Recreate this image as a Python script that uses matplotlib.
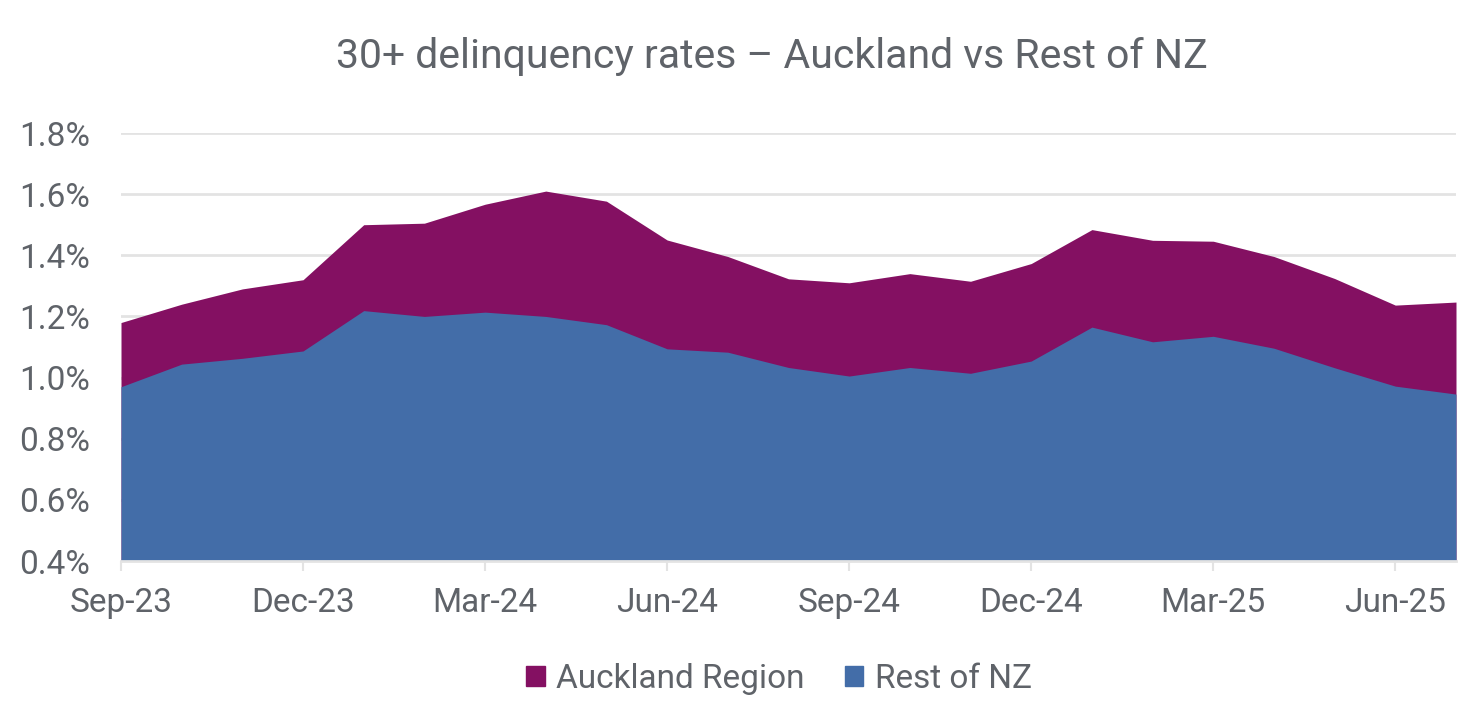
import matplotlib.pyplot as plt
from matplotlib.patches import Patch
from matplotlib.ticker import FuncFormatter, MultipleLocator

# Monthly data, Sep-23 .. Jul-25 (percent)
months = ['Sep-23', 'Oct-23', 'Nov-23', 'Dec-23', 'Jan-24', 'Feb-24', 'Mar-24', 'Apr-24',
          'May-24', 'Jun-24', 'Jul-24', 'Aug-24', 'Sep-24', 'Oct-24', 'Nov-24', 'Dec-24',
          'Jan-25', 'Feb-25', 'Mar-25', 'Apr-25', 'May-25', 'Jun-25', 'Jul-25']
auckland = [1.18, 1.24, 1.29, 1.32, 1.50, 1.505, 1.567, 1.61, 1.577, 1.45, 1.396, 1.323,
            1.31, 1.34, 1.315, 1.373, 1.484, 1.449, 1.446, 1.396, 1.324, 1.237, 1.247]
rest_nz = [0.97, 1.044, 1.063, 1.087, 1.219, 1.20, 1.214, 1.20, 1.173, 1.094, 1.083, 1.033,
           1.005, 1.033, 1.014, 1.054, 1.165, 1.117, 1.135, 1.096, 1.032, 0.972, 0.946]

PURPLE = '#841062'
BLUE = '#436DA8'
TEXT = '#5F6369'
GRID = '#E3E3E3'

plt.rcParams['font.family'] = ['Roboto', 'DejaVu Sans']

fig = plt.figure(figsize=(14.72, 7.18), dpi=100)
ax = fig.add_axes([121 / 1472, 157 / 718, (1456 - 121) / 1472, (561 - 133) / 718])

x = list(range(len(months)))
ax.fill_between(x, 0, auckland, color=PURPLE, linewidth=0, zorder=2)
ax.fill_between(x, 0, rest_nz, color=BLUE, linewidth=0, zorder=3)

ax.set_xlim(0, len(months) - 1)
ax.set_ylim(0.4, 1.8)
ax.yaxis.set_major_locator(MultipleLocator(0.2))
ax.yaxis.set_major_formatter(FuncFormatter(lambda v, p: f'{v:.1f}%'))

ax.set_xticks(x[::3])
ax.set_xticklabels(months[::3])

ax.grid(axis='y', color=GRID, linewidth=2, zorder=1)
ax.set_axisbelow(True)
for s in ['top', 'right', 'left']:
    ax.spines[s].set_visible(False)
ax.spines['bottom'].set_color(GRID)
ax.spines['bottom'].set_linewidth(2)
ax.spines['bottom'].set_zorder(4)

ax.tick_params(axis='y', length=0, pad=22, labelsize=24, labelcolor=TEXT)
ax.tick_params(axis='x', length=7, width=1.5, color=GRID, pad=12, labelsize=24, labelcolor=TEXT)

fig.text(772 / 1472, 1 - 57 / 718, '30+ delinquency rates \u2013 Auckland vs Rest of NZ',
         ha='center', va='center', fontsize=29.5, color=TEXT)

handles = [Patch(color=PURPLE, label='Auckland Region'), Patch(color=BLUE, label='Rest of NZ')]
fig.legend(handles=handles, loc='center', bbox_to_anchor=(779 / 1472, 39 / 718), ncol=2,
           frameon=False, fontsize=24, labelcolor=TEXT, handlelength=0.55, handleheight=0.55,
           handletextpad=0.35, columnspacing=1.2)

fig.savefig('out.png', dpi=100)
